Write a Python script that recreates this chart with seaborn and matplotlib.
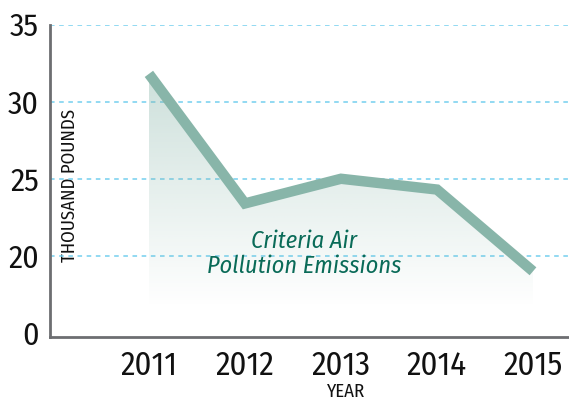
import numpy as np
import pandas as pd
import matplotlib
matplotlib.use('Agg')
import matplotlib.pyplot as plt
from matplotlib.colors import to_rgb
import seaborn as sns

# Data
years = [2011, 2012, 2013, 2014, 2015]
emissions = [31.8, 23.4, 25.0, 24.3, 19.0]
ytick_values = [15, 20, 25, 30, 35]   # broken axis: lowest tick is labelled "0"
ytick_labels = ['0', '20', '25', '30', '35']
grid_values = [20, 25, 30, 35]
series_label = 'Criteria Air\nPollution Emissions'

df = pd.DataFrame({'year': years, 'emissions': emissions})

sns.set_style('white')
plt.rcParams['font.family'] = ['Fira Sans Condensed', 'Roboto Condensed',
                               'Archivo Narrow', 'DejaVu Sans']

line_color = '#88b5a9'
fig = plt.figure(figsize=(5.69, 4.0), dpi=100)
ax = fig.add_axes([0.0879, 0.1575, 0.9121, 0.7812])
ymin = 14.74
fade_bottom = 16.7
xlim = (2009.97, 2015.375)

# dashed gridlines
for v in grid_values:
    ax.axhline(v, color='#74d0ef', lw=1.1, ls=(0, (3, 3)), zorder=1)

# gradient fill under the line, fading to white
poly = ax.fill_between(years, emissions, fade_bottom, color='none', lw=0)
n = 256
rgba = np.zeros((n, 1, 4))
rgba[..., :3] = to_rgb(line_color)
rgba[:, 0, 3] = np.linspace(0.42, 0.0, n)
img = ax.imshow(rgba, extent=[min(years), max(years), fade_bottom, max(emissions)],
                origin='upper', aspect='auto', zorder=2, interpolation='bilinear')
img.set_clip_path(poly.get_paths()[0], transform=ax.transData)

# the line
sns.lineplot(data=df, x='year', y='emissions', color=line_color, lw=7.5, ax=ax,
             solid_capstyle='butt', solid_joinstyle='miter', zorder=3)

ax.set_xlim(*xlim)
ax.set_ylim(ymin, 35)

ax.text(2012.62, 20.15, series_label, ha='center', va='center', style='italic',
        color='#0a6b58', fontsize=17.5, linespacing=1.08, zorder=4)

# axes styling
for side in ['top', 'right']:
    ax.spines[side].set_visible(False)
for side in ['left', 'bottom']:
    ax.spines[side].set_color('#6d6e71')
    ax.spines[side].set_linewidth(2)

ax.set_xticks(years)
ax.set_xticklabels([str(y) for y in years])
ax.set_yticks(ytick_values)
ax.set_yticklabels(ytick_labels)
ax.tick_params(axis='x', direction='out', length=7, width=1, color='#aaaaaa',
               labelsize=23.5, pad=2, labelcolor='#111111')
ax.tick_params(axis='y', length=0, labelsize=23, pad=8, labelcolor='#111111')

ax.set_ylabel('THOUSAND POUNDS', fontsize=13.5, color='#111111', va='center')
ax.yaxis.set_label_coords(0.039, 0.486)
ax.set_xlabel('YEAR', fontsize=13.5, color='#111111', va='top')
ax.xaxis.set_label_coords(0.571, -0.148)

plt.savefig('out.png', dpi=100)
plt.close()
